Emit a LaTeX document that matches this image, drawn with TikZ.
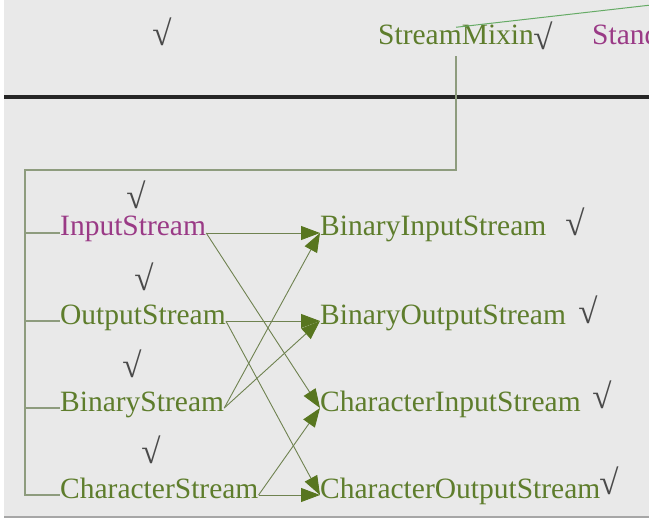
\documentclass[tikz,border=0pt]{standalone}
\usepackage{fontspec}
\setmainfont{Liberation Serif}
\usetikzlibrary{positioning, arrows.meta, calc}

\definecolor{paneBg}{HTML}{E9E9E9}
\definecolor{leafGreen}{HTML}{5E7D2C}
\definecolor{plum}{HTML}{9A3A86}
\definecolor{wireGray}{HTML}{8E9C7E}
\definecolor{linkGreen}{HTML}{6F8250}
\definecolor{tipGreen}{HTML}{58761F}
\definecolor{tickGray}{HTML}{4A4A4A}

\begin{document}
\begin{tikzpicture}[%
    x=1pt, y=-1pt,
    font=\fontsize{29.5}{32}\selectfont,
    % Text styles
    cls/.style={inner sep=0pt, anchor=base west, text height=6pt, text depth=0pt, text=leafGreen},
    clsroot/.style={cls, text=plum},
    tick/.style={inner sep=0pt, text=tickGray, font=\fontsize{35}{36}\selectfont},
    % Line styles
    rail/.style={draw=wireGray, line width=1.2pt},
    link/.style={draw=linkGreen, line width=0.9pt, -{Triangle[length=19pt, width=14pt, color=tipGreen, fill=tipGreen]}}
]

\useasboundingbox (0,0) rectangle (649,519);
\clip (0,0) rectangle (649,519);

% --- Pane ---
\fill[white] (0,0) rectangle (649,519);
\fill[paneBg] (4,0) rectangle (649,517);
\draw[gray!70, line width=1.5pt] (4,517) -- (649,517);
\draw[black!85, line width=4pt] (4,97) -- (649,97);

% --- 1. Top row ---
\node[tick] (topok) at (162,32) {√};
\node[inner sep=0pt, anchor=base west, text=leafGreen] (mixin) at (378,45) {StreamMixin};
\node[tick] (mixinok) at (543,36) {√};
\node[inner sep=0pt, anchor=base west, text=plum] (stand) at (592,45) {Stand};
\coordinate (mixdrop) at ([yshift=-11pt]mixin.south);
\coordinate (offright) at (660,4);
\coordinate (railtop) at (25,170);

\draw[draw=green!45!black!60, line width=1pt] ([yshift=-2pt]mixin.north) -- (offright);

% --- 2. Stream kinds (left) ---
\node[clsroot] (inS) at (60,236) {InputStream};
\node[cls] (outS) at (60,324) {OutputStream};
\node[cls] (binS) at (60,411) {BinaryStream};
\node[cls] (chS) at (60,498) {CharacterStream};

\node[tick] (inok) at (136,195) {√};
\node[tick] (outok) at (144,277) {√};
\node[tick] (binok) at (132,364) {√};
\node[tick] (chok) at (151,450) {√};

% --- 3. Concrete streams (right) ---
\node[cls] (binIn) at (320,236) {BinaryInputStream};
\node[cls] (binOut) at (320,324) {BinaryOutputStream};
\node[cls] (chIn) at (320,411) {CharacterInputStream};
\node[cls] (chOut) at (320,498) {CharacterOutputStream};

\node[tick] (binInok) at (575,222) {√};
\node[tick] (binOutok) at (588,310) {√};
\node[tick] (chInok) at (602,395) {√};
\node[tick] (chOutok) at (609,481) {√};

% Rail from StreamMixin
\draw[rail] (mixdrop) |- (railtop) |- (chS.west);
\draw[rail] (railtop |- inS.west) -- (inS.west);
\draw[rail] (railtop |- outS.west) -- (outS.west);
\draw[rail] (railtop |- binS.west) -- (binS.west);

% Connections
\draw[link] (inS.east) -- (binIn.west);
\draw[link] (inS.east) -- (chIn.west);
\draw[link] (outS.east) -- (binOut.west);
\draw[link] (outS.east) -- (chOut.west);
\draw[link] (binS.east) -- (binIn.west);
\draw[link] (binS.east) -- (binOut.west);
\draw[link] (chS.east) -- (chIn.west);
\draw[link] (chS.east) -- (chOut.west);

\end{tikzpicture}
\end{document}
